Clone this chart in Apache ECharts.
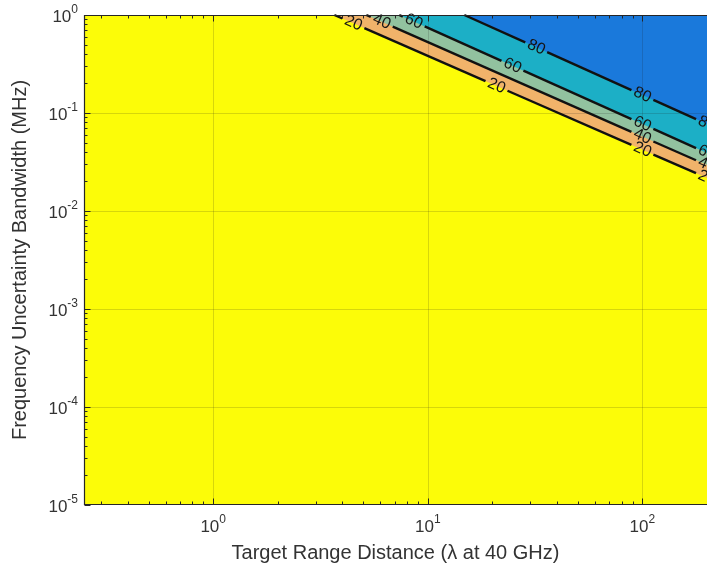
<!DOCTYPE html>
<html><head><meta charset="utf-8">
<script src="https://cdn.jsdelivr.net/npm/echarts@6/dist/echarts.min.js"></script>
<style>html,body{margin:0;padding:0;background:#fff}#c{width:707px;height:576px}</style>
</head><body><div id="c"></div>
<script>
// ---- axis ranges ----
const xMin = 0.25, xMax = 200;
const yMin = 1e-5, yMax = 1;
// ---- contour data (log-log straight lines) ----
const levels = [20, 40, 60, 80];
const contourTopX = [3.67, 5.17, 7.36, 14.8];        // x where contour meets f = 1 MHz
const contourRightY = [0.0217, 0.0294, 0.0391, 0.0773]; // f where contour meets x = 200
const labelX = [[4.5, 20.9, 100, 200], [6.1, 100, 200], [8.6, 24.8, 100, 200], [32, 100, 200]];
const bandColors = ['#FCFC08', '#F1B36A', '#92C29F', '#1CAFC6', '#1A79DB'];
// ---- ticks ----
const xMajor = [1, 10, 100];
const yMajor = [1e-5, 1e-4, 1e-3, 1e-2, 1e-1, 1];
const xDecades = [-1, 0, 1, 2];
const yDecades = [-5, -4, -3, -2, -1];
const minorMult = [2, 3, 4, 5, 6, 7, 8, 9];

const xMinor = [], yMinor = [];
xDecades.forEach(d => minorMult.forEach(m => { const v = m * Math.pow(10, d); if (v > xMin && v < xMax) xMinor.push(v); }));
yDecades.forEach(d => minorMult.forEach(m => { const v = m * Math.pow(10, d); if (v > yMin && v < yMax) yMinor.push(v); }));

const TXT = '#333333';
const FONT = '"Liberation Sans", Arial, sans-serif';

function superLabel(v) {
  const e = Math.log10(v); const r = Math.round(e);
  if (Math.abs(e - r) > 1e-6) return '';
  return '{b|10}{s|' + r + '}';
}
const richTick = {
  b: { fontSize: 17, fontFamily: FONT, color: TXT, lineHeight: 22, verticalAlign: 'bottom' },
  s: { fontSize: 12, fontFamily: FONT, color: TXT, lineHeight: 14, verticalAlign: 'top' }
};

const chart = echarts.init(document.getElementById('c'), null, { renderer: 'canvas' });

const fillData = levels.map((l, i) => [contourTopX[i], contourRightY[i], i]);

const option = {
  animation: false,
  grid: { left: 84, top: 15, right: 0, bottom: 71, show: true, backgroundColor: bandColors[0], borderWidth: 0 },
  xAxis: {
    type: 'log', min: xMin, max: xMax, logBase: 10,
    name: 'Target Range Distance (λ at 40 GHz)', nameLocation: 'middle', nameGap: 38,
    nameTextStyle: { fontSize: 20, fontFamily: FONT, color: TXT },
    axisLine: { show: false }, axisTick: { show: false }, splitLine: { show: false }, minorTick: { show: false },
    axisLabel: { formatter: superLabel, rich: richTick, margin: 9, showMinLabel: false, showMaxLabel: false }
  },
  yAxis: {
    type: 'log', min: yMin, max: yMax, logBase: 10,
    name: 'Frequency Uncertainty Bandwidth (MHz)', nameLocation: 'middle', nameGap: 54, nameRotate: 90,
    nameTextStyle: { fontSize: 20, fontFamily: FONT, color: TXT },
    axisLine: { show: false }, axisTick: { show: false }, splitLine: { show: false },
    axisLabel: { formatter: superLabel, rich: richTick, margin: 6 }
  },
  series: [
    { // filled bands
      type: 'custom', z: 1, clip: true,
      encode: { x: 0, y: 1 },
      data: fillData,
      renderItem: function (params, api) {
        const i = api.value(2);
        const p0 = api.coord([contourTopX[i], yMax]);
        const p1 = api.coord([xMax, yMax]);
        const p2 = api.coord([xMax, contourRightY[i]]);
        return { type: 'polygon', shape: { points: [p0, p1, p2] }, style: { fill: bandColors[i + 1] } };
      }
    },
    { // grid lines
      type: 'custom', z: 2, clip: true,
      encode: { x: 0, y: 1 },
      data: [[1, 1]],
      renderItem: function (params, api) {
        const cs = params.coordSys;
        const ch = [];
        const st = { stroke: 'rgba(30,30,30,0.17)', lineWidth: 1 };
        xMajor.forEach(v => { const x = Math.round(api.coord([v, yMax])[0]) + 0.5; ch.push({ type: 'line', shape: { x1: x, y1: cs.y, x2: x, y2: cs.y + cs.height }, style: st }); });
        yMajor.forEach(v => { const y = Math.round(api.coord([xMin, v])[1]) + 0.5; ch.push({ type: 'line', shape: { x1: cs.x, y1: y, x2: cs.x + cs.width, y2: y }, style: st }); });
        return { type: 'group', children: ch };
      }
    },
    { // contour lines and labels
      type: 'custom', z: 3, clip: false,
      encode: { x: 0, y: 1 },
      data: fillData,
      renderItem: function (params, api) {
        const i = api.value(2);
        const p0 = api.coord([contourTopX[i], yMax]);
        const p1 = api.coord([xMax, contourRightY[i]]);
        const dx = p1[0] - p0[0], dy = p1[1] - p0[1];
        const len = Math.sqrt(dx * dx + dy * dy);
        const ang = Math.atan2(dy, dx);
        const lx0 = Math.log10(contourTopX[i]), lx1 = Math.log10(xMax);
        const ly0 = Math.log10(yMax), ly1 = Math.log10(contourRightY[i]);
        const gapHalf = 12;
        const ts = labelX[i].map(xv => (Math.log10(xv) - lx0) / (lx1 - lx0));
        const segs = [];
        let cur = 0;
        ts.slice().sort((a, b) => a - b).forEach(t => {
          const a = t - gapHalf / len, b = t + gapHalf / len;
          if (a > cur) segs.push([cur, a]);
          cur = Math.max(cur, b);
        });
        if (cur < 1) segs.push([cur, 1]);
        const ch = [];
        segs.forEach(s => {
          ch.push({ type: 'line', shape: { x1: p0[0] + dx * s[0], y1: p0[1] + dy * s[0], x2: p0[0] + dx * s[1], y2: p0[1] + dy * s[1] },
            style: { stroke: '#111', lineWidth: 2.4 } });
        });
        ts.forEach((t, k) => {
          const xv = labelX[i][k];
          const yv = Math.pow(10, ly0 + (ly1 - ly0) * t);
          const p = api.coord([xv, yv]);
          ch.push({ type: 'text', x: p[0], y: p[1], rotation: -ang,
            style: { text: String(levels[i]), fontSize: 16, fontFamily: FONT, fill: '#151515', align: 'center', verticalAlign: 'middle' } });
        });
        return { type: 'group', children: ch };
      }
    },
    { // frame and ticks
      type: 'custom', z: 5, clip: false,
      encode: { x: 0, y: 1 },
      data: [[1, 1]],
      renderItem: function (params, api) {
        const cs = params.coordSys;
        const ch = [];
        const st = { stroke: '#262626', lineWidth: 1 };
        const L = cs.x + 0.5, T = cs.y + 0.5, B = cs.y + cs.height - 0.5, R = cs.x + cs.width;
        ch.push({ type: 'polyline', shape: { points: [[R, T], [L, T], [L, B], [R, B]] }, style: { stroke: '#262626', lineWidth: 1.2, fill: null } });
        const xt = (v, len) => { const x = Math.round(api.coord([v, yMax])[0]) + 0.5;
          ch.push({ type: 'line', shape: { x1: x, y1: B, x2: x, y2: B - len }, style: st });
          ch.push({ type: 'line', shape: { x1: x, y1: T, x2: x, y2: T + len }, style: st }); };
        const yt = (v, len) => { const y = Math.round(api.coord([xMin, v])[1]) + 0.5;
          ch.push({ type: 'line', shape: { x1: L, y1: y, x2: L + len, y2: y }, style: st }); };
        xMajor.forEach(v => xt(v, 6));
        xMinor.forEach(v => xt(v, 3));
        yMajor.forEach(v => yt(v, 6));
        yMinor.forEach(v => yt(v, 3));
        return { type: 'group', children: ch };
      }
    }
  ]
};
chart.setOption(option);
</script>
</body></html>
